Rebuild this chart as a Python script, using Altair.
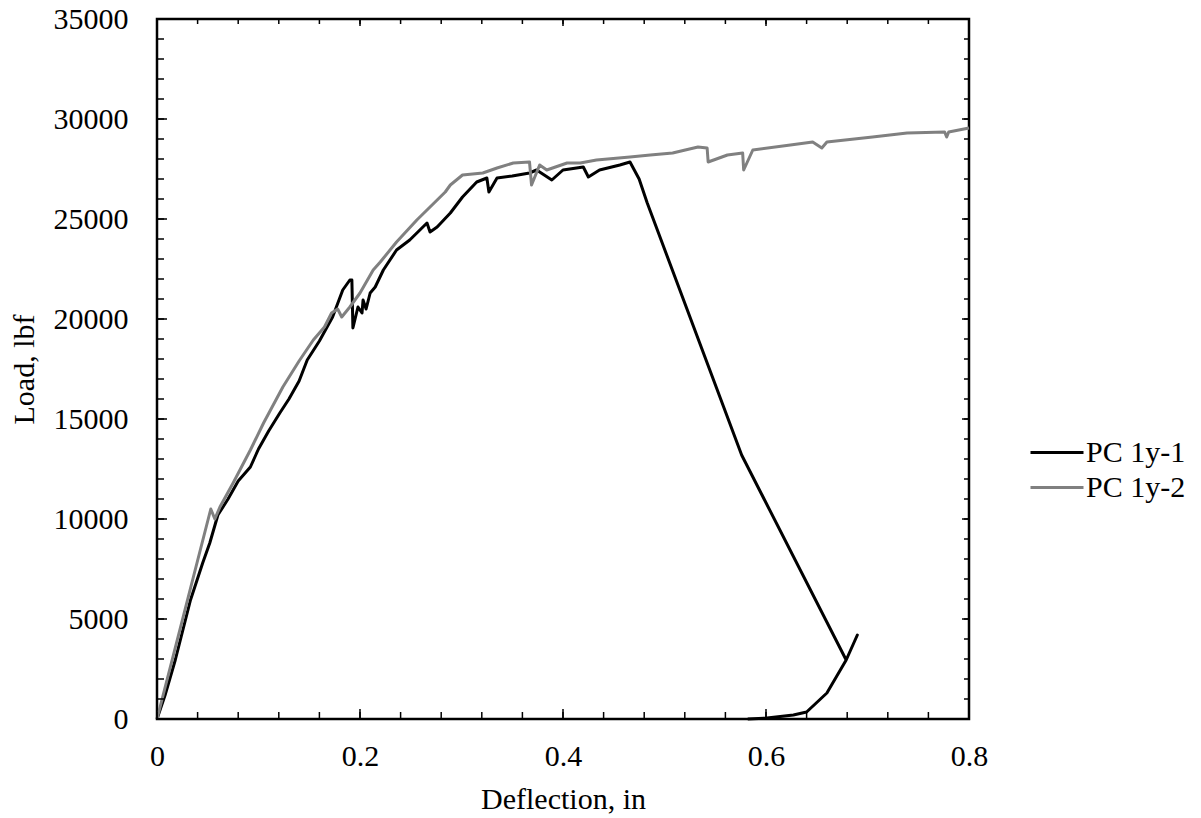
import altair as alt
import pandas as pd

# ---- data ----
series_names = ["PC 1y-1", "PC 1y-2"]
series_colors = ["#000000", "#808080"]

s1_x = [0, 0.008, 0.018, 0.033, 0.045, 0.052, 0.060, 0.070, 0.080, 0.092, 0.100,
        0.110, 0.121, 0.130, 0.140, 0.148, 0.160, 0.173, 0.183, 0.190, 0.192,
        0.193, 0.198, 0.202, 0.203, 0.206, 0.210, 0.215, 0.223, 0.236, 0.249,
        0.266, 0.269, 0.276, 0.289, 0.301, 0.315, 0.325, 0.327, 0.335, 0.350,
        0.367, 0.374, 0.389, 0.400, 0.420, 0.425, 0.436, 0.456, 0.466, 0.475,
        0.483, 0.576, 0.679, 0.690, 0.679, 0.660, 0.640, 0.627, 0.601, 0.582]
s1_y = [0, 1200, 2950, 5950, 7800, 8800, 10200, 11000, 11900, 12600, 13500,
        14400, 15300, 16000, 16900, 17950, 18900, 20100, 21450, 21950, 21950,
        19550, 20600, 20300, 20950, 20500, 21300, 21600, 22450, 23450, 23950,
        24800, 24350, 24600, 25300, 26100, 26850, 27050, 26350, 27050, 27150,
        27300, 27450, 26950, 27450, 27600, 27100, 27450, 27700, 27850, 27000,
        25800, 13200, 2950, 4200, 2950, 1300, 350, 200, 50, 0]

s2_x = [0, 0.053, 0.057, 0.062, 0.075, 0.092, 0.105, 0.124, 0.140, 0.154, 0.165,
        0.172, 0.178, 0.182, 0.190, 0.200, 0.213, 0.220, 0.236, 0.256, 0.279,
        0.284, 0.289, 0.301, 0.321, 0.335, 0.351, 0.367, 0.369, 0.377, 0.384,
        0.404, 0.417, 0.433, 0.466, 0.486, 0.508, 0.533, 0.542, 0.543, 0.562,
        0.577, 0.578, 0.587, 0.624, 0.646, 0.655, 0.660, 0.705, 0.739, 0.776,
        0.778, 0.780, 0.800]
s2_y = [0, 10500, 10000, 10600, 11800, 13450, 14800, 16600, 17900, 18950, 19600,
        20300, 20500, 20100, 20600, 21300, 22450, 22850, 23850, 24950, 26100,
        26350, 26700, 27200, 27300, 27550, 27800, 27850, 26700, 27700, 27450,
        27800, 27800, 27950, 28100, 28200, 28300, 28600, 28550, 27850, 28200,
        28300, 27450, 28450, 28700, 28850, 28550, 28850, 29100, 29300, 29350,
        29100, 29350, 29550]

x_major = [0, 0.2, 0.4, 0.6, 0.8]
x_minor = [0, 0.04, 0.08, 0.12, 0.16, 0.2, 0.24, 0.28, 0.32, 0.36, 0.4, 0.44,
           0.48, 0.52, 0.56, 0.6, 0.64, 0.68, 0.72, 0.76, 0.8]
y_major = [0, 5000, 10000, 15000, 20000, 25000, 30000, 35000]
y_minor = [0, 1000, 2000, 3000, 4000, 5000, 6000, 7000, 8000, 9000, 10000,
           11000, 12000, 13000, 14000, 15000, 16000, 17000, 18000, 19000, 20000,
           21000, 22000, 23000, 24000, 25000, 26000, 27000, 28000, 29000, 30000,
           31000, 32000, 33000, 34000, 35000]

W, H = 812, 700
FONT = "Liberation Serif"
FS = 30

df1 = pd.DataFrame({"x": s1_x, "y": s1_y, "series": series_names[0],
                    "i": list(range(len(s1_x)))})
df2 = pd.DataFrame({"x": s2_x, "y": s2_y, "series": series_names[1],
                    "i": list(range(len(s2_x)))})

xscale = alt.Scale(domain=[0, 0.8], nice=False, zero=False)
yscale = alt.Scale(domain=[0, 35000], nice=False, zero=False)
cscale = alt.Scale(domain=series_names, range=series_colors)

x_axis = alt.Axis(values=x_major, format=".1~f", title="Deflection, in",
                  labelPadding=22, titlePadding=13, tickSize=0, labelFlush=False,
                  domain=False, ticks=False, grid=False)
y_axis = alt.Axis(values=y_major, format="d", title="Load, lbf",
                  labelPadding=29, titlePadding=14, tickSize=0, labelFlush=False,
                  domain=False, ticks=False, grid=False)

legend = alt.Legend(orient="none", legendX=872, legendY=416, title=None,
                    symbolType="stroke", symbolSize=2809, symbolStrokeWidth=3,
                    labelFont=FONT, labelFontSize=FS, labelColor="black",
                    clipHeight=35, rowPadding=0, labelOffset=1, padding=0)

line1 = alt.Chart(df1).mark_line(strokeWidth=3, strokeJoin="round").encode(
    x=alt.X("x:Q", scale=xscale, axis=x_axis),
    y=alt.Y("y:Q", scale=yscale, axis=y_axis),
    color=alt.Color("series:N", scale=cscale, legend=legend),
    order="i:Q",
)
line2 = alt.Chart(df2).mark_line(strokeWidth=3, strokeJoin="round").encode(
    x=alt.X("x:Q", scale=xscale, axis=x_axis),
    y=alt.Y("y:Q", scale=yscale, axis=y_axis),
    color=alt.Color("series:N", scale=cscale, legend=legend),
    order="i:Q",
)


def xticks(vals, y0, y1):
    return alt.Chart(pd.DataFrame({"v": vals})).mark_rule(
        color="black", strokeWidth=1.5).encode(
        x=alt.X("v:Q", scale=xscale, axis=x_axis),
        y=alt.value(y0), y2=alt.value(y1))


def yticks(vals, x0, x1):
    return alt.Chart(pd.DataFrame({"v": vals})).mark_rule(
        color="black", strokeWidth=1.5).encode(
        y=alt.Y("v:Q", scale=yscale, axis=y_axis),
        x=alt.value(x0), x2=alt.value(x1))


layers = [
    line1, line2,
    xticks(x_minor, H, H - 7), xticks(x_major, H, H - 10),
    xticks(x_minor, 0, 5), xticks(x_major, 0, 7),
    yticks(y_minor, 0, 7), yticks(y_major, 0, 10),
    yticks(y_minor, W, W - 5), yticks(y_major, W, W - 7),
]

chart = alt.layer(*layers).properties(
    width=W, height=H,
    autosize=alt.AutoSizeParams(type="none"),
    padding={"left": 157, "top": 19, "right": 232, "bottom": 99},
    background="white",
).configure_view(
    stroke="black", strokeWidth=2.5
).configure_axis(
    labelFont=FONT, labelFontSize=FS, labelColor="black",
    titleFont=FONT, titleFontSize=FS, titleColor="black",
    titleFontWeight="normal",
)

chart.save("out.html", embed_options={"renderer": "svg", "actions": False})
